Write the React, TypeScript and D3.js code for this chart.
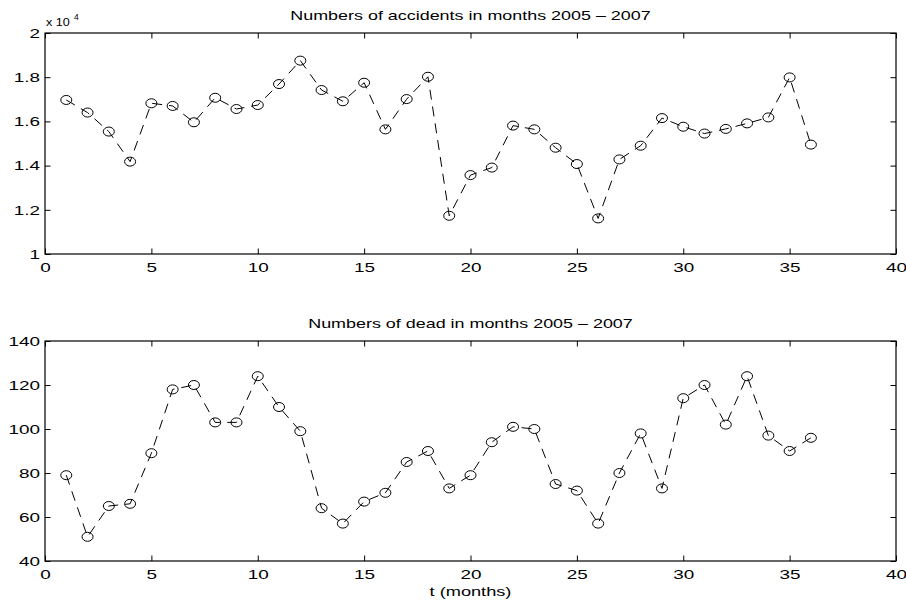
import { useEffect, useRef } from "react";
import * as d3 from "d3";

// monthly counts, Jan 2005 .. Dec 2007
const accidents = [
    16970, 16400, 15540, 14180, 16820, 16700, 15960, 17070, 16560, 16740, 17690, 18750,
    17420, 16910, 17750, 15640, 17010, 18020, 11730, 13570, 13910, 15810, 15640, 14810,
    14070, 11610, 14280, 14900, 16150, 15760, 15450, 15660, 15910, 16180, 17990, 14950,
];
const deaths = [
    79, 51, 65, 66, 89, 118, 120, 103, 103, 124, 110, 99,
    64, 57, 67, 71, 85, 90, 73, 79, 94, 101, 100, 75,
    72, 57, 80, 98, 73, 114, 120, 102, 124, 97, 90, 96,
];
const xTicks = [0, 5, 10, 15, 20, 25, 30, 35, 40];
const accTicks = [10000, 12000, 14000, 16000, 18000, 20000];
const deadTicks = [40, 60, 80, 100, 120, 140];
const titles = [
    "Numbers of accidents in months 2005 \u2013 2007",
    "Numbers of dead in months 2005 \u2013 2007",
];
const xLabel = "t (months)";

const W = 906;
const H = 603;
const LEFT = 45;
const RIGHT = 896;
const FONT = "'Liberation Sans', Arial, Helvetica, sans-serif";
const FS = 13.5;
const STRETCH = 1.4; // text in the original is horizontally stretched

function App() {
    const svgRef = useRef(null);

    useEffect(() => {
        const svg = d3.select(svgRef.current);
        svg.selectAll("*").remove();

        const panels = [
            { top: 33, bottom: 254, values: accidents, domain: [10000, 20000], ticks: accTicks, fmt: (d) => d3.format("~g")(d / 10000), title: titles[0] },
            { top: 341, bottom: 561, values: deaths, domain: [40, 140], ticks: deadTicks, fmt: (d) => String(d), title: titles[1] },
        ];

        const x = d3.scaleLinear().domain([0, 40]).range([LEFT, RIGHT]);

        panels.forEach((p) => {
            const y = d3.scaleLinear().domain(p.domain).range([p.bottom, p.top]);
            const g = svg.append("g");

            // axes (ticks inward)
            const styleAxis = (sel) => {
                sel.select(".domain").remove();
                sel.selectAll("line").attr("stroke", "#000").attr("stroke-width", 1);
                sel.selectAll("text")
                    .attr("fill", "#000")
                    .style("font-family", FONT)
                    .style("font-size", FS + "px");
            };

            g.append("g")
                .attr("transform", `translate(0,${p.bottom})`)
                .call(d3.axisBottom(x).tickValues(xTicks).tickSize(-5.5).tickSizeOuter(0).tickPadding(8))
                .call(styleAxis)
                .selectAll("text")
                .attr("transform", `scale(${STRETCH},1)`);

            g.append("g")
                .attr("transform", `translate(0,${p.top})`)
                .call(d3.axisTop(x).tickValues(xTicks).tickSize(-5.5).tickSizeOuter(0).tickFormat(() => ""))
                .call(styleAxis);

            g.append("g")
                .attr("transform", `translate(${LEFT},0)`)
                .call(d3.axisLeft(y).tickValues(p.ticks).tickSize(-5.5).tickSizeOuter(0).tickPadding(3.6).tickFormat(p.fmt))
                .call(styleAxis)
                .selectAll("text")
                .attr("transform", `scale(${STRETCH},1)`);

            g.append("g")
                .attr("transform", `translate(${RIGHT},0)`)
                .call(d3.axisRight(y).tickValues(p.ticks).tickSize(-5.5).tickSizeOuter(0).tickFormat(() => ""))
                .call(styleAxis);

            // frame
            g.append("rect")
                .attr("x", LEFT)
                .attr("y", p.top)
                .attr("width", RIGHT - LEFT)
                .attr("height", p.bottom - p.top)
                .attr("fill", "none")
                .attr("stroke", "#000")
                .attr("stroke-width", 1.2);

            // title
            g.append("text")
                .attr("transform", `translate(${(LEFT + RIGHT) / 2},${p.top - 13}) scale(${STRETCH},1)`)
                .attr("text-anchor", "middle")
                .style("font-family", FONT)
                .style("font-size", "12.8px")
                .text(p.title);

            // dashed line
            const pts = p.values.map((v, i) => [i + 1, v]);
            const myLine = d3.line()
                .x((d) => x(d[0]))
                .y((d) => y(d[1]));

            g.append("path")
                .datum(pts)
                .attr("d", myLine)
                .attr("fill", "none")
                .attr("stroke", "#000")
                .attr("stroke-width", 1)
                .attr("stroke-dasharray", "10,7");

            // circle markers
            g.selectAll(".dots")
                .data(pts)
                .join("ellipse")
                .attr("class", "dots")
                .attr("cx", (d) => x(d[0]))
                .attr("cy", (d) => y(d[1]))
                .attr("rx", 5.5)
                .attr("ry", 4.5)
                .attr("fill", "none")
                .attr("stroke", "#000")
                .attr("stroke-width", 1);
        });

        // exponent label for top panel
        svg.append("text")
            .attr("transform", "translate(46,26) scale(1.1,1)")
            .style("font-family", FONT)
            .style("font-size", "11.5px")
            .text("x 10");
        svg.append("text")
            .attr("x", 74)
            .attr("y", 20)
            .style("font-family", FONT)
            .style("font-size", "8.5px")
            .text("4");

        // x axis label
        svg.append("text")
            .attr("transform", `translate(${(LEFT + RIGHT) / 2},596) scale(${STRETCH},1)`)
            .attr("text-anchor", "middle")
            .style("font-family", FONT)
            .style("font-size", "13px")
            .text(xLabel);
    }, []);

    return (
        <svg
            ref={svgRef}
            width={W}
            height={H}
            style={{ position: "absolute", left: 0, top: 0, background: "#fff" }}
        ></svg>
    );
}

export default App;
